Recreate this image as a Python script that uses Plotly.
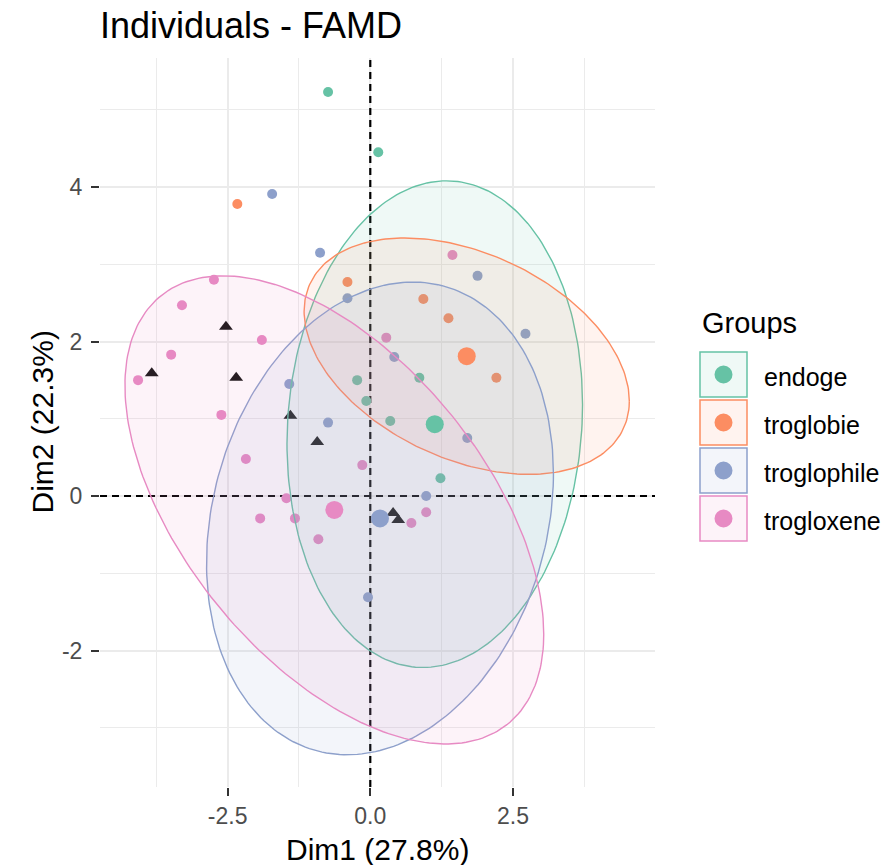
import numpy as np
import plotly.graph_objects as go

# ---- data -------------------------------------------------------------
groups = ["endoge", "troglobie", "troglophile", "trogloxene"]
group_colors = ["#66C2A5", "#FC8D62", "#8DA0CB", "#E78AC3"]

endoge_x = [-0.74, 0.14, -0.23, -0.07, 0.35, 0.86, 1.23]
endoge_y = [5.23, 4.45, 1.50, 1.23, 0.97, 1.53, 0.23]

troglobie_x = [-2.33, -0.40, 0.93, 1.37, 2.21]
troglobie_y = [3.78, 2.77, 2.55, 2.30, 1.53]

troglophile_x = [-1.72, -0.88, -0.40, 0.42, 1.88, 2.72, -1.42, -0.74, 1.70, 0.98, -0.04]
troglophile_y = [3.91, 3.15, 2.56, 1.80, 2.85, 2.10, 1.45, 0.95, 0.75, 0.00, -1.31]

trogloxene_x = [-2.74, -3.30, -1.90, -3.49, 0.28, -4.07, -2.61, -0.14,
                -2.18, -1.47, -1.93, -1.32, -0.91, 0.72, 0.98, 1.44]
trogloxene_y = [2.80, 2.47, 2.02, 1.83, 2.05, 1.50, 1.05, 0.40,
                0.48, -0.03, -0.29, -0.29, -0.56, -0.35, -0.21, 3.12]

# qualitative categories (black triangles)
quali_x = [-2.53, -3.83, -2.35, -1.40, -0.93, 0.40, 0.49]
quali_y = [2.19, 1.59, 1.53, 1.04, 0.70, -0.22, -0.31]

# group mean points
mean_x = [1.13, 1.69, 0.17, -0.63]
mean_y = [0.93, 1.81, -0.29, -0.18]

# concentration ellipses: half-extent along each axis and tilt phase
ellipse_rx = [2.59, 2.85, 3.04, 3.67]
ellipse_ry = [3.15, 1.53, 3.06, 3.03]
ellipse_tilt = [0.08, -0.39, 0.19, -0.56]

x_ticks = [-2.5, 0.0, 2.5]
x_tick_text = ["-2.5", "0.0", "2.5"]
x_minor = [-3.75, -1.25, 1.25, 3.75]
y_ticks = [-2, 0, 2, 4]
y_tick_text = ["-2", "0", "2", "4"]
y_minor = [-3, -1, 1, 3, 5]

x_range = [-4.737, 4.99]
y_range = [-3.767, 5.67]

group_x = [endoge_x, troglobie_x, troglophile_x, trogloxene_x]
group_y = [endoge_y, troglobie_y, troglophile_y, trogloxene_y]

FONT = "Liberation Sans, Arial, sans-serif"


def rgba(hex_color, alpha):
    h = hex_color.lstrip("#")
    r, g, b = int(h[0:2], 16), int(h[2:4], 16), int(h[4:6], 16)
    return f"rgba({r},{g},{b},{alpha})"


fig = go.Figure()

# dashed reference lines through the origin
fig.add_trace(go.Scatter(x=[0, 0], y=y_range, mode="lines",
                         line=dict(color="black", width=2.2, dash="7px,5px"),
                         hoverinfo="skip", showlegend=False))
fig.add_trace(go.Scatter(x=x_range, y=[0, 0], mode="lines",
                         line=dict(color="black", width=2.2, dash="7px,5px"),
                         hoverinfo="skip", showlegend=False))

# individuals
for name, col, xs, ys in zip(groups, group_colors, group_x, group_y):
    fig.add_trace(go.Scatter(x=xs, y=ys, mode="markers", name=name,
                             marker=dict(color=col, size=10, line=dict(width=0)),
                             showlegend=False))

fig.add_trace(go.Scatter(x=quali_x, y=quali_y, mode="markers",
                         marker=dict(symbol="triangle-up", color="#111111", size=12,
                                     line=dict(width=0)),
                         showlegend=False))

# ellipses, drawn over the individuals
t = np.linspace(0, 2 * np.pi, 241)
for name, col, cx, cy, rx, ry, ph in zip(groups, group_colors, mean_x, mean_y,
                                         ellipse_rx, ellipse_ry, ellipse_tilt):
    ex = cx + rx * np.cos(t)
    ey = cy + ry * np.sin(t + ph)
    fig.add_trace(go.Scatter(x=ex, y=ey, mode="lines", fill="toself",
                             fillcolor=rgba(col, 0.1),
                             line=dict(color=col, width=1.4),
                             hoverinfo="skip", showlegend=False))

# group means
fig.add_trace(go.Scatter(x=mean_x, y=mean_y, mode="markers",
                         marker=dict(color=group_colors, size=18, line=dict(width=0)),
                         showlegend=False))

# ---- layout -----------------------------------------------------------
L, R, T, B = 100, 235, 58, 78
W, H = 890, 865
PW, PH = W - L - R, H - T - B


def px_x(px):
    return (px - L) / PW


def px_y(py):
    return (H - B - py) / PH


shapes = []
annotations = []

# legend: key boxes with a dot, built from the group lists
annotations.append(dict(text="Groups", x=px_x(700), y=px_y(323), xref="paper", yref="paper",
                        xanchor="left", yanchor="middle", showarrow=False,
                        font=dict(size=29, color="black", family=FONT)))
for i, (name, col) in enumerate(zip(groups, group_colors)):
    top = 352 + i * 48
    bot = top + 45
    shapes.append(dict(type="rect", xref="paper", yref="paper",
                       x0=px_x(700), x1=px_x(747), y0=px_y(bot), y1=px_y(top),
                       line=dict(color=col, width=1.5), fillcolor=rgba(col, 0.1)))
    cyp = (top + bot) / 2
    shapes.append(dict(type="circle", xref="paper", yref="paper",
                       xsizemode="pixel", ysizemode="pixel",
                       xanchor=px_x(723.5), yanchor=px_y(cyp),
                       x0=-9, x1=9, y0=-9, y1=9,
                       line=dict(width=0), fillcolor=col))
    annotations.append(dict(text=name, x=px_x(762), y=px_y(cyp + 2), xref="paper", yref="paper",
                            xanchor="left", yanchor="middle", showarrow=False,
                            font=dict(size=25, color="black", family=FONT)))

# axis titles
annotations.append(dict(text="Dim1 (27.8%)", x=0.5, y=px_y(849), xref="paper", yref="paper",
                        xanchor="center", yanchor="middle", showarrow=False,
                        font=dict(size=30, color="black", family=FONT)))
annotations.append(dict(text="Dim2 (22.3%)", x=px_x(42), y=0.5, xref="paper", yref="paper",
                        xanchor="center", yanchor="middle", showarrow=False, textangle=-90,
                        font=dict(size=30, color="black", family=FONT)))

axis_common = dict(showline=False, zeroline=False, ticks="outside", ticklen=8,
                   tickwidth=1.5, tickcolor="#333333", showgrid=True,
                   gridcolor="#EBEBEB", gridwidth=1.5,
                   tickfont=dict(size=23, color="#4D4D4D", family=FONT))

fig.update_layout(
    width=W, height=H,
    margin=dict(l=L, r=R, t=T, b=B),
    paper_bgcolor="white", plot_bgcolor="white",
    font=dict(family=FONT),
    title=dict(text="Individuals - FAMD", x=0, xref="paper", xanchor="left",
               y=1 - 25 / H, yref="container", yanchor="middle",
               font=dict(size=36, color="black", family=FONT)),
    xaxis=dict(range=x_range, tickvals=x_ticks, ticktext=x_tick_text,
               minor=dict(tickvals=x_minor, showgrid=True, gridcolor="#EBEBEB",
                          gridwidth=1.0, ticks=""),
               ticklabelstandoff=0, **axis_common),
    yaxis=dict(range=y_range, tickvals=y_ticks, ticktext=y_tick_text,
               minor=dict(tickvals=y_minor, showgrid=True, gridcolor="#EBEBEB",
                          gridwidth=1.0, ticks=""),
               ticklabelstandoff=4, **axis_common),
    shapes=shapes,
    annotations=annotations,
    showlegend=False,
)

fig.write_html("out.html")
